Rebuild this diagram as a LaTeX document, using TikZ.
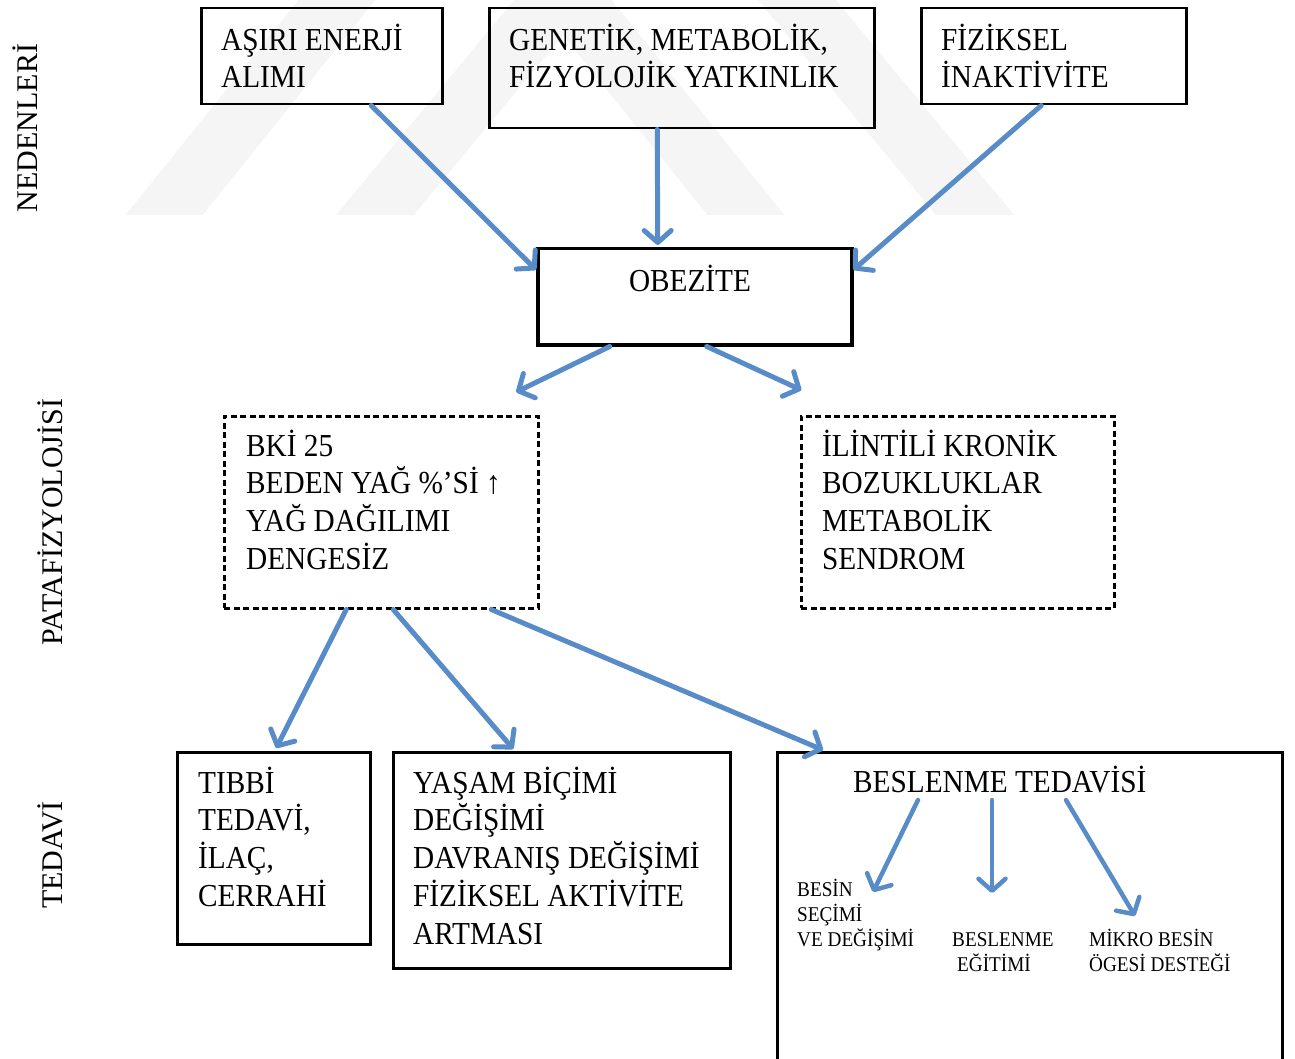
\documentclass[tikz,border=0pt]{standalone}
\usepackage{fontspec}
\setmainfont{Liberation Serif}
\newfontfamily\bfnt{Liberation Serif}[FakeStretch=0.915]
\usetikzlibrary{arrows.meta,calc}
\definecolor{arrblue}{RGB}{88,140,200}
\definecolor{wm}{RGB}{245,245,245}
\newcommand{\fl}{\rule{0pt}{28pt}}
\newcommand{\sfl}{\rule{0pt}{19pt}}
\begin{document}
\begin{tikzpicture}[x=1pt,y=-1pt,
 box/.style={draw=black, line width=2.5pt, rectangle, inner sep=0pt, anchor=north west},
 dbox/.style={box, dash pattern=on 6pt off 3.5pt},
 txt/.style={anchor=north west, inner sep=0pt, align=left, font=\bfnt\fontsize{32}{37.7}\selectfont},
 small/.style={anchor=north west, inner sep=0pt, align=left, font=\bfnt\fontsize{21}{25}\selectfont},
 side/.style={rotate=90, inner sep=0pt, font=\fontsize{30}{32}\selectfont},
 arr/.style={draw=arrblue, line width=5pt, line cap=round,
   -{Straight Barb[length=12pt,width=27pt,line cap=round,line join=round]},
   preaction={draw=black!35, opacity=0.3, transform canvas={xshift=1pt,yshift=-1.8pt}}},
 sarr/.style={arr, line width=4.5pt},
]
\useasboundingbox (0,0) rectangle (1295,1059);
\clip (0,0) rectangle (1295,1059);

% watermark
\begin{scope}
\clip (100,0) rectangle (1060,215);
\draw[wm, line width=60pt, line join=miter] (140,245) -- (455,-147) -- (770,245);
\draw[wm, line width=60pt, line join=miter] (350,245) -- (675,-147) -- (1000,245);
\end{scope}

% side labels
\node[side] (lab1) at (25,128) {NEDENLERİ};
\node[side] (lab2) at (50,522) {PATAFİZYOLOJİSİ};
\node[side] (lab3) at (50,855) {TEDAVİ};

% boxes
\node[box, minimum width=241pt, minimum height=96pt] (n1) at (200,7) {};
\node[box, minimum width=385pt, minimum height=120pt] (n2) at (488,7) {};
\node[box, minimum width=265pt, minimum height=96pt] (n3) at (920,7) {};
\node[box, line width=3.5pt, minimum width=314pt, minimum height=96pt] (ob) at (536,247) {};
\node[dbox, minimum width=314pt, minimum height=192pt] (p1) at (223,415) {};
\node[dbox, minimum width=313pt, minimum height=192pt] (p2) at (800,415) {};
\node[box, minimum width=193pt, minimum height=192pt] (t1) at (176,751) {};
\node[box, minimum width=337pt, minimum height=216pt] (t2) at (392,751) {};
\node[box, minimum width=505pt, minimum height=400pt] (t3) at (776,751) {};

% texts
\node[txt] (n1t) at (221,22) {\fl AŞIRI ENERJİ\\ALIMI};
\node[txt] (n2t) at (509,22) {\fl GENETİK, METABOLİK,\\FİZYOLOJİK YATKINLIK};
\node[txt] (n3t) at (941,22) {\fl FİZİKSEL\\İNAKTİVİTE};
\node[txt, anchor=base] (obt) at (690,291) {OBEZİTE};
\node[txt] (p1t) at (246,428) {\fl BKİ 25\\BEDEN YAĞ \%’Sİ ↑\\YAĞ DAĞILIMI\\DENGESİZ};
\node[txt] (p2t) at (822,428) {\fl İLİNTİLİ KRONİK\\BOZUKLUKLAR\\METABOLİK\\SENDROM};
\node[txt] (t1t) at (198,765) {\fl TIBBİ\\TEDAVİ,\\İLAÇ,\\CERRAHİ};
\node[txt] (t2t) at (413,765) {\fl YAŞAM BİÇİMİ\\DEĞİŞİMİ\\DAVRANIŞ DEĞİŞİMİ\\FİZİKSEL AKTİVİTE\\ARTMASI};
\node[txt, anchor=base west] (bt) at (853,792) {BESLENME TEDAVİSİ};
\node[small] (s1) at (797,877) {\sfl BESİN\\SEÇİMİ\\VE DEĞİŞİMİ};
\node[small] (s2) at (952,927) {\sfl BESLENME\\\hspace*{5pt}EĞİTİMİ};
\node[small] (s3) at (1089,927) {\sfl MİKRO BESİN\\ÖGESİ DESTEĞİ};

% arrows
\draw[arr] ([xshift=49.5pt]n1.south) -- ([yshift=27pt]ob.west);
\draw[arr] ([xshift=-24.5pt]n2.south) -- ([xshift=-37pt,yshift=2pt]ob.north);
\draw[arr] ([xshift=-12.5pt]n3.south) -- ([yshift=27pt]ob.east);
\draw[arr] ([xshift=-85pt]ob.south) -- ([xshift=135pt,yshift=23pt]p1.north);
\draw[arr] ([xshift=12pt]ob.south) -- ([xshift=-156.5pt,yshift=25pt]p2.north);
\draw[arr] ([xshift=-35pt]p1.south) -- ([xshift=2.5pt,yshift=3pt]t1.north);
\draw[arr] ([xshift=12pt]p1.south) -- ([xshift=-48.5pt,yshift=2pt]t2.north);
\draw[arr] ([xshift=110pt]p1.south) -- ([xshift=47pt,yshift=1pt]t3.north west);
\draw[sarr] ([xshift=65pt,yshift=-8pt]bt.base west) -- ([xshift=76pt,yshift=-15pt]s1.north west);
\draw[sarr] ([xshift=139pt,yshift=-8pt]bt.base west) -- ([xshift=40pt,yshift=34pt]s2.north west);
\draw[sarr] ([xshift=213pt,yshift=-8pt]bt.base west) -- ([xshift=46pt,yshift=11pt]s3.north west);
\end{tikzpicture}
\end{document}
